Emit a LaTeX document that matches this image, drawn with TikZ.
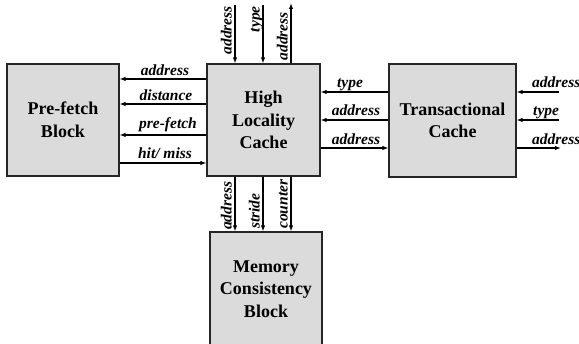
\documentclass[tikz,border=0pt]{standalone}
\usepackage{fontspec}
\setmainfont{Liberation Serif}
\usetikzlibrary{arrows.meta}
\begin{document}
\begin{tikzpicture}[x=1pt,y=-1pt,
  blk/.style={draw=black!85,line width=1.2pt,fill=black!14,inner sep=0pt,align=center,
    font=\fontsize{18}{22.5}\selectfont\bfseries},
  blktext/.style={inner sep=0pt,align=center,font=\fontsize{18}{22.5}\selectfont\bfseries},
  sig/.style={line width=1.6pt,-{Latex[length=6pt,width=4.5pt]}},
  lab/.style={font=\fontsize{15.5}{17}\selectfont\bfseries\itshape,inner sep=0pt}]
\useasboundingbox (0,0) rectangle (579,344);
\begin{scope}
\clip (0,0) rectangle (579,344);
\node[blk,minimum width=112pt,minimum height=112pt] (pf) at (63,120) {Pre-fetch\\Block};
\node[blk,minimum width=113pt,minimum height=112pt] (hlc) at (263.5,120) {High\\Locality\\Cache};
\node[blk,minimum width=127pt,minimum height=113pt] (tc) at (452.5,120.5) {Transactional\\Cache};
\node[blk,minimum width=112pt,minimum height=120pt] (mcb) at (266,292) {};
\node[blktext] (mcbt) at (266,289) {Memory\\Consistency\\Block};
\end{scope}
% top arrows
\coordinate (t1) at (235,5);
\coordinate (t2) at (263,5);
\coordinate (t3) at (291,3);
\draw[sig] (t1) -- (t1 |- hlc.north);
\draw[sig] (t2) -- (t2 |- hlc.north);
\draw[sig] (t3 |- hlc.north) -- (t3);
\node[lab,rotate=90,anchor=base east] (lt1) at (231.5,6) {address};
\node[lab,rotate=90,anchor=base east] (lt2) at (259.5,6) {type};
\node[lab,rotate=90,anchor=base east] (lt3) at (287.5,12) {address};
% left arrows
\coordinate (l1) at (0,79);
\coordinate (l2) at (0,104);
\coordinate (l3) at (0,135);
\coordinate (l4) at (0,163);
\draw[sig] (hlc.west |- l1) -- (pf.east |- l1);
\draw[sig] (hlc.west |- l2) -- (pf.east |- l2);
\draw[sig] (hlc.west |- l3) -- (pf.east |- l3);
\draw[sig] (pf.east |- l4) -- (hlc.west |- l4);
\node[lab,anchor=base] (ll1) at (165,75.5) {address};
\node[lab,anchor=base] (ll2) at (166,100.5) {distance};
\node[lab,anchor=base] (ll3) at (168,129) {pre-fetch};
\node[lab,anchor=base] (ll4) at (165,159) {hit/ miss};
% middle arrows
\coordinate (m1) at (0,92);
\coordinate (m2) at (0,120);
\coordinate (m3) at (0,148);
\draw[sig] (tc.west |- m1) -- (hlc.east |- m1);
\draw[sig] (tc.west |- m2) -- (hlc.east |- m2);
\draw[sig] (hlc.east |- m3) -- (tc.west |- m3);
\node[lab,anchor=base] (lm1) at (350,87.5) {type};
\node[lab,anchor=base] (lm2) at (356,116) {address};
\node[lab,anchor=base] (lm3) at (356,144.5) {address};
% right arrows
\coordinate (r1) at (559,92);
\coordinate (r2) at (559,120);
\coordinate (r3) at (561,148);
\draw[sig] (r1) -- (tc.east |- r1);
\draw[sig] (r2) -- (tc.east |- r2);
\draw[sig] (tc.east |- r3) -- (r3);
\node[lab,anchor=base west] (lr1) at (532,87.5) {address};
\node[lab,anchor=base west] (lr2) at (533,116) {type};
\node[lab,anchor=base west] (lr3) at (532,144.5) {address};
% bottom arrows
\coordinate (b1) at (235,0);
\coordinate (b2) at (263,0);
\coordinate (b3) at (291,0);
\draw[sig] (b1 |- hlc.south) -- (b1 |- mcb.north);
\draw[sig] (b2 |- hlc.south) -- (b2 |- mcb.north);
\draw[sig] (b3 |- hlc.south) -- (b3 |- mcb.north);
\node[lab,rotate=90,anchor=base west] (lb1) at (231.5,230) {address};
\node[lab,rotate=90,anchor=base west] (lb2) at (259.5,229) {stride};
\node[lab,rotate=90,anchor=base west] (lb3) at (287.5,229) {counter};
\end{tikzpicture}
\end{document}
